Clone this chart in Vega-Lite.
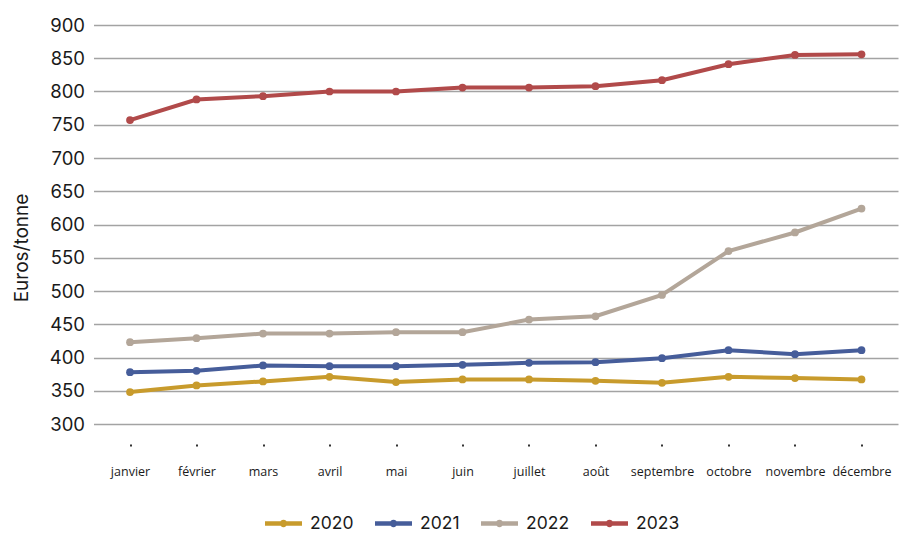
{
  "$schema": "https://vega.github.io/schema/vega-lite/v6.json",
  "autosize": "none",
  "width": 804.5,
  "height": 399,
  "padding": {"left": 93.5, "top": 25, "right": 6, "bottom": 109},
  "background": "white",
  "config": {
    "view": {"stroke": null},
    "font": "Inter",
    "axis": {"labelColor": "#1a1a1a", "titleColor": "#1a1a1a"}
  },
  "data": {
    "values": [
      {"mois": "janvier", "annee": "2020", "prix": 348},
      {"mois": "février", "annee": "2020", "prix": 358},
      {"mois": "mars", "annee": "2020", "prix": 364},
      {"mois": "avril", "annee": "2020", "prix": 371},
      {"mois": "mai", "annee": "2020", "prix": 363},
      {"mois": "juin", "annee": "2020", "prix": 367},
      {"mois": "juillet", "annee": "2020", "prix": 367},
      {"mois": "août", "annee": "2020", "prix": 365},
      {"mois": "septembre", "annee": "2020", "prix": 362},
      {"mois": "octobre", "annee": "2020", "prix": 371},
      {"mois": "novembre", "annee": "2020", "prix": 369},
      {"mois": "décembre", "annee": "2020", "prix": 367},
      {"mois": "janvier", "annee": "2021", "prix": 378},
      {"mois": "février", "annee": "2021", "prix": 380},
      {"mois": "mars", "annee": "2021", "prix": 388},
      {"mois": "avril", "annee": "2021", "prix": 387},
      {"mois": "mai", "annee": "2021", "prix": 387},
      {"mois": "juin", "annee": "2021", "prix": 389},
      {"mois": "juillet", "annee": "2021", "prix": 392},
      {"mois": "août", "annee": "2021", "prix": 393},
      {"mois": "septembre", "annee": "2021", "prix": 399},
      {"mois": "octobre", "annee": "2021", "prix": 411},
      {"mois": "novembre", "annee": "2021", "prix": 405},
      {"mois": "décembre", "annee": "2021", "prix": 411},
      {"mois": "janvier", "annee": "2022", "prix": 423},
      {"mois": "février", "annee": "2022", "prix": 429},
      {"mois": "mars", "annee": "2022", "prix": 436},
      {"mois": "avril", "annee": "2022", "prix": 436},
      {"mois": "mai", "annee": "2022", "prix": 438},
      {"mois": "juin", "annee": "2022", "prix": 438},
      {"mois": "juillet", "annee": "2022", "prix": 457},
      {"mois": "août", "annee": "2022", "prix": 462},
      {"mois": "septembre", "annee": "2022", "prix": 494},
      {"mois": "octobre", "annee": "2022", "prix": 560},
      {"mois": "novembre", "annee": "2022", "prix": 588},
      {"mois": "décembre", "annee": "2022", "prix": 624},
      {"mois": "janvier", "annee": "2023", "prix": 757},
      {"mois": "février", "annee": "2023", "prix": 788},
      {"mois": "mars", "annee": "2023", "prix": 793},
      {"mois": "avril", "annee": "2023", "prix": 800},
      {"mois": "mai", "annee": "2023", "prix": 800},
      {"mois": "juin", "annee": "2023", "prix": 806},
      {"mois": "juillet", "annee": "2023", "prix": 806},
      {"mois": "août", "annee": "2023", "prix": 808},
      {"mois": "septembre", "annee": "2023", "prix": 817},
      {"mois": "octobre", "annee": "2023", "prix": 841},
      {"mois": "novembre", "annee": "2023", "prix": 855},
      {"mois": "décembre", "annee": "2023", "prix": 856}
    ]
  },
  "mark": {
    "type": "line",
    "strokeWidth": 4,
    "point": {"filled": true, "size": 60, "opacity": 1}
  },
  "encoding": {
    "x": {
      "field": "mois",
      "type": "nominal",
      "sort": ["janvier", "février", "mars", "avril", "mai", "juin", "juillet", "août", "septembre", "octobre", "novembre", "décembre"],
      "scale": {"type": "point", "padding": 0.549},
      "axis": {
        "title": null,
        "domain": false,
        "grid": false,
        "labelAngle": 0,
        "offset": 20,
        "ticks": true,
        "tickSize": 2,
        "tickWidth": 2,
        "tickColor": "#333333",
        "labelPadding": 19,
        "labelFont": "Open Sans",
        "labelFontSize": 12.5,
        "labelColor": "#1a1a1a"
      }
    },
    "y": {
      "field": "prix",
      "type": "quantitative",
      "scale": {"domain": [300, 900], "nice": false, "zero": false},
      "axis": {
        "title": "Euros/tonne",
        "values": [300, 350, 400, 450, 500, 550, 600, 650, 700, 750, 800, 850, 900],
        "domain": false,
        "ticks": false,
        "grid": true,
        "gridColor": "#a3a3a3",
        "gridWidth": 1.3,
        "labelPadding": 9,
        "labelFontSize": 18.5,
        "labelFont": "Inter",
        "titleFont": "Inter",
        "titleFontSize": 19,
        "titleFontWeight": "normal",
        "titleAngle": 270,
        "titleX": -72.5,
        "titleY": 222.5,
        "titleAlign": "center",
        "titleBaseline": "middle"
      }
    },
    "color": {
      "field": "annee",
      "type": "nominal",
      "scale": {
        "domain": ["2020", "2021", "2022", "2023"],
        "range": ["#c89b2c", "#465d9a", "#b3a699", "#b14a4a"]
      },
      "legend": {
        "title": null,
        "orient": "none",
        "direction": "horizontal",
        "columns": 4,
        "legendX": 171.5,
        "legendY": 480,
        "symbolType": "M -1 -0.12 L 1 -0.12 L 1 0.12 L -1 0.12 Z M 0.2 0 A 0.2 0.2 0 1 1 -0.2 0 A 0.2 0.2 0 1 1 0.2 0 Z",
        "symbolSize": 1369,
        "symbolStrokeWidth": 0,
        "labelFont": "Inter",
        "labelFontSize": 17.5,
        "labelColor": "#1a1a1a",
        "labelOffset": 8,
        "columnPadding": 21,
        "encode": {
          "symbols": {
            "update": {
              "fill": {"scale": "color", "field": "value"},
              "stroke": {"value": "transparent"},
              "opacity": {"value": 1}
            }
          }
        }
      }
    }
  }
}
